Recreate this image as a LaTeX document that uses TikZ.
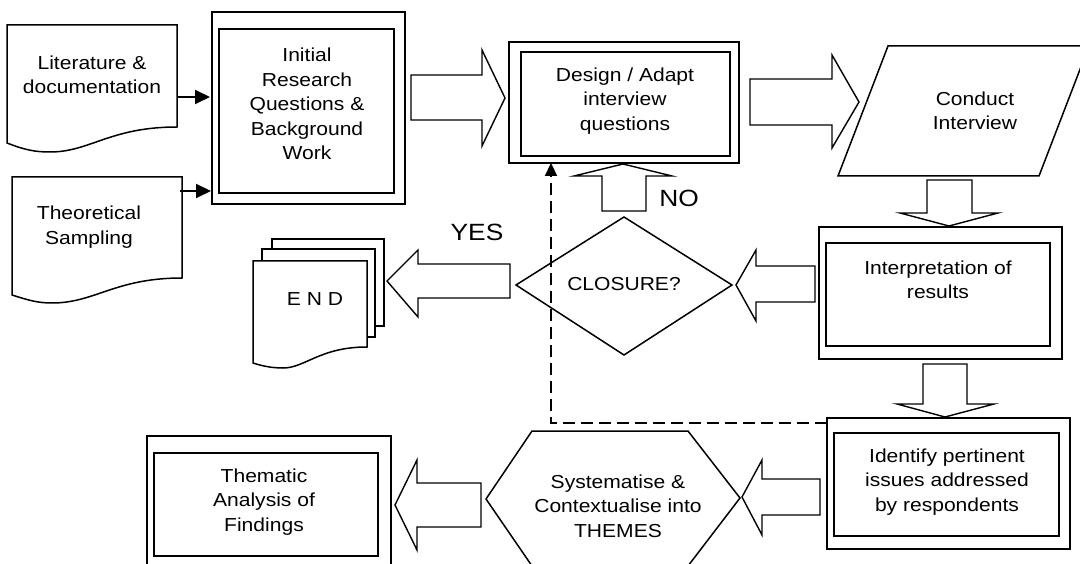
\documentclass[tikz,border=0pt]{standalone}
\usepackage{fontspec}
\setmainfont{Liberation Sans}[FakeStretch=1.12]
\usetikzlibrary{arrows.meta}
\begin{document}
\begin{tikzpicture}[x=1pt,y=-1pt,
  frame/.style={draw,line width=1.6pt,fill=white},
  docsh/.style={draw,line width=1.5pt,fill=white,line join=miter},
  blk/.style={draw,line width=1.4pt,line join=miter,fill=white},
  lbl/.style={align=center,font=\fontsize{18.8}{24.5}\selectfont,inner sep=0pt},
  big/.style={font=\fontsize{23.5}{28}\selectfont,inner sep=0pt},
  conn/.style={line width=2pt,-{Triangle[length=15pt,width=14pt]}},
  dashconn/.style={line width=2.2pt,dash pattern=on 12pt off 6pt,-{Triangle[length=13pt,width=12pt]}}]
\useasboundingbox (0,0) rectangle (1080,564);
\clip (0,0) rectangle (1080,564);

% ---------- document shapes ----------
\draw[docsh] (7,143) -- (7,25) -- (177,25) -- (177,127)
  .. controls (110,127) and (90,152) .. (50,152)
  .. controls (35,152) and (25,150) .. (7,143) -- cycle;
\node[lbl] (lit) at (92,75) {Literature \&\\documentation};

\draw[docsh] (12,295) -- (12,177) -- (182,177) -- (182,278)
  .. controls (115,278) and (95,303) .. (52,303)
  .. controls (37,303) and (28,300) .. (12,295) -- cycle;
\node[lbl] (theo) at (89,227) {Theoretical\\Sampling};

% ---------- Initial research ----------
\draw[frame] (212,12) rectangle (405,204);
\draw[frame] (219,29) rectangle (394,193);
\node[lbl] (ini) at (307,104) {Initial\\Research\\Questions \&\\Background\\Work};

\coordinate (litR) at (177,97);
\coordinate (iniL1) at (210,97);
\coordinate (theoR) at (180,191);
\coordinate (iniL2) at (211,191);
\draw[conn] (litR) -- (iniL1);
\draw[conn] (theoR) -- (iniL2);

% ---------- block arrow Initial -> Design ----------
\draw[blk] (411,75) -- (482,75) -- (482,50) -- (505,98) -- (482,146) -- (482,120) -- (411,120) -- cycle;

% ---------- Design ----------
\draw[frame] (509,42) rectangle (739,163);
\draw[frame] (521,52) rectangle (730,156);
\node[lbl] (dsg) at (625,101) {Design / Adapt\\interview\\questions};

% ---------- block arrow Design -> Conduct ----------
\draw[blk] (750,79) -- (832,79) -- (832,55) -- (859,102) -- (832,148) -- (832,125) -- (750,125) -- cycle;

% ---------- Conduct interview ----------
\draw[docsh] (838,176) -- (888,46) -- (1089,46) -- (1039,176) -- cycle;
\node[lbl] (cond) at (975,111) {Conduct\\Interview};

% ---------- block arrow Conduct -> Interpretation ----------
\draw[blk] (927,180) -- (972,180) -- (972,213) -- (998,213) -- (949,226) -- (900,213) -- (927,213) -- cycle;

% ---------- Interpretation ----------
\draw[frame] (819,227) rectangle (1062,359);
\draw[frame] (826,243) rectangle (1050,346);
\node[lbl] (intp) at (938,280) {Interpretation of\\results};

% ---------- block arrow Interpretation -> Closure ----------
\draw[blk] (815,266) -- (756,266) -- (756,250) -- (736,285) -- (756,321) -- (756,302) -- (815,302) -- cycle;

% ---------- Closure diamond ----------
\draw[docsh] (624,217) -- (732,285) -- (624,355) -- (516,285) -- cycle;
\node[lbl] (clo) at (624,284) {CLOSURE?};

% ---------- NO arrow (up) ----------
\draw[blk] (602,211) -- (602,176) -- (574,176) -- (623,164) -- (672,176) -- (646,176) -- (646,211) -- cycle;
\node[big] (no) at (679,198) {NO};

% ---------- block arrow Closure -> END ----------
\draw[blk] (510,264) -- (418,264) -- (418,250) -- (387,281) -- (418,317) -- (418,298) -- (510,298) -- cycle;
\node[big] (yes) at (477,232) {YES};

% ---------- END stacked documents ----------
\draw[docsh] (272,239) rectangle (384,326);
\draw[docsh] (262,249) rectangle (375,337);
\draw[docsh] (253,363) -- (253,261) -- (367,261) -- (367,347)
  .. controls (320,347) and (305,368) .. (283,368)
  .. controls (272,368) and (262,366) .. (253,363) -- cycle;
\node[lbl] (endn) at (315,299) {E N D};

% ---------- block arrow Interpretation -> Identify ----------
\draw[blk] (923,364) -- (967,364) -- (967,404) -- (994,404) -- (945,417) -- (897,404) -- (923,404) -- cycle;

% ---------- Identify ----------
\draw[frame] (827,418) rectangle (1070,549);
\draw[frame] (834,433) rectangle (1059,536);
\node[lbl] (idf) at (947,482) {Identify pertinent\\issues addressed\\by respondents};

% ---------- dashed feedback ----------
\coordinate (idfL) at (827,423);
\coordinate (dsgB) at (551,163);
\draw[dashconn] (idfL) -| (dsgB);

% ---------- block arrow Identify -> Systematise ----------
\draw[blk] (820,479) -- (762,479) -- (762,460) -- (742,497) -- (762,535) -- (762,515) -- (820,515) -- cycle;

% ---------- Systematise hexagon ----------
\draw[docsh] (486,499) -- (532,431) -- (688,431) -- (740,498) -- (688,566) -- (532,566) -- cycle;
\node[lbl] (sys) at (618,506) {Systematise \&\\Contextualise into\\THEMES};

% ---------- block arrow Systematise -> Thematic ----------
\draw[blk] (481,483) -- (417,483) -- (417,460) -- (395,505) -- (417,550) -- (417,527) -- (481,527) -- cycle;

% ---------- Thematic analysis ----------
\draw[frame] (147,436) rectangle (391,575);
\draw[frame] (154,453) rectangle (378,556);
\node[lbl] (them) at (264,502) {Thematic\\Analysis of\\Findings};
\end{tikzpicture}
\end{document}
